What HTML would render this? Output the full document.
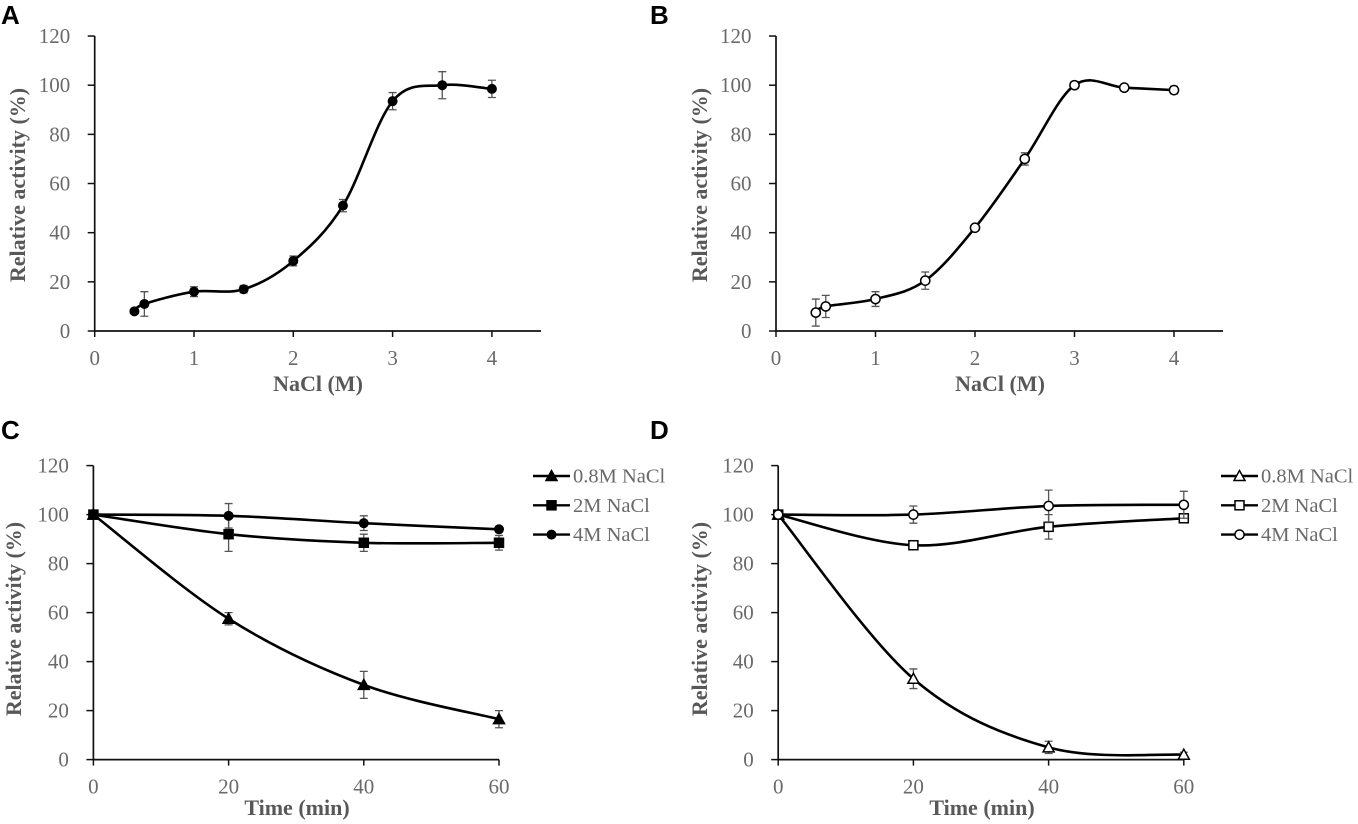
<!DOCTYPE html>
<html lang="en">
<head>
<meta charset="utf-8">
<title>Relative activity panels</title>
<style>
html,body{margin:0;padding:0;background:#fff;width:1358px;height:824px;overflow:hidden}
svg{display:block;filter:blur(0.35px)}
text{font-family:"Liberation Serif",serif;fill:#6a6a6a}
.tick{font-size:21px}
.title{font-size:22px;font-weight:bold;fill:#585858}
.panel{font-family:"Liberation Sans",sans-serif;font-size:26px;font-weight:bold;fill:#000}
.legend{font-size:20.5px}
</style>
</head>
<body>
<svg id="chart" xmlns="http://www.w3.org/2000/svg" width="1358" height="824" viewBox="0 0 1358 824"></svg>
<script>
// --- data ---
const yTicks = [0, 20, 40, 60, 80, 100, 120];
const naclTicks = [0, 1, 2, 3, 4];
const timeTicks = [0, 20, 40, 60];

const naclA = [0.4, 0.5, 1, 1.5, 2, 2.5, 3, 3.5, 4];
const activityA = [8, 11, 16, 17, 28.5, 51, 93.5, 100, 98.5];
const errorA = [0, 5, 2, 1.5, 2, 2.5, 3.5, 5.5, 3.5];

const naclB = [0.4, 0.5, 1, 1.5, 2, 2.5, 3, 3.5, 4];
const activityB = [7.5, 10, 13, 20.5, 42, 70, 100, 99, 98];
const errorB = [5.5, 4.5, 3, 3.5, 1, 2.5, 1.5, 1, 1.5];

const timeMin = [0, 20, 40, 60];
const c08 = [100, 57.5, 30.5, 16.5];
const c08Err = [0, 2.5, 5.5, 3.5];
const c2 = [100, 92, 88.5, 88.5];
const c2Err = [0, 7, 3.5, 3];
const c4 = [100, 99.5, 96.5, 94];
const c4Err = [0, 5, 3, 1];

const d08 = [100, 33, 5, 2];
const d08Err = [0, 4, 2.5, 1];
const d2 = [100, 87.5, 95, 98.5];
const d2Err = [0, 1, 5, 1];
const d4 = [100, 100, 103.5, 104];
const d4Err = [0, 3.5, 6.5, 5.5];

const legendLabels = ['0.8M NaCl', '2M NaCl', '4M NaCl'];

// --- drawing ---
const NS = 'http://www.w3.org/2000/svg';
const root = document.getElementById('chart');

function el(parent, tag, attrs) {
  const e = document.createElementNS(NS, tag);
  for (const k in attrs) e.setAttribute(k, attrs[k]);
  parent.appendChild(e);
  return e;
}
function label(parent, name, str, attrs) {
  const t = el(parent, 'text', attrs);
  t.textContent = str;
  
  
  return t;
}
function smoothPath(pts) {
  let d = 'M' + pts[0][0] + ' ' + pts[0][1];
  for (let i = 0; i < pts.length - 1; i++) {
    const p0 = pts[Math.max(i - 1, 0)], p1 = pts[i], p2 = pts[i + 1], p3 = pts[Math.min(i + 2, pts.length - 1)];
    const c1x = p1[0] + (p2[0] - p0[0]) / 6, c1y = p1[1] + (p2[1] - p0[1]) / 6;
    const c2x = p2[0] - (p3[0] - p1[0]) / 6, c2y = p2[1] - (p3[1] - p1[1]) / 6;
    d += ' C' + c1x + ' ' + c1y + ' ' + c2x + ' ' + c2y + ' ' + p2[0] + ' ' + p2[1];
  }
  return d;
}
function marker(parent, shape, filled, x, y, name) {
  const fill = filled ? '#000' : '#fff';
  let m;
  if (shape === 'circle') {
    m = el(parent, 'circle', {cx: x, cy: y, r: filled ? 5 : 4.6, fill: fill, stroke: '#000', 'stroke-width': filled ? 0 : 1.5});
  } else if (shape === 'square') {
    m = el(parent, 'rect', {x: x - 4.5, y: y - 4.5, width: 9, height: 9, fill: fill, stroke: '#000', 'stroke-width': 1.5});
  } else {
    m = el(parent, 'polygon', {points: (x) + ',' + (y - 5.5) + ' ' + (x + 5.5) + ',' + (y + 4.5) + ' ' + (x - 5.5) + ',' + (y + 4.5), fill: fill, stroke: '#000', 'stroke-width': 1.5});
  }
  
  
  return m;
}
function drawSeries(g, sx, sy, xs, ys, errs, shape, filled, name) {
  const s = el(g, 'g', {});
  
  
  xs.forEach((v, i) => {
    if (!errs[i]) return;
    const x = sx(v), top = sy(ys[i] + errs[i]), bot = sy(ys[i] - errs[i]);
    const bar = el(s, 'path', {d: 'M' + x + ' ' + top + 'V' + bot + 'M' + (x - 4) + ' ' + top + 'h8M' + (x - 4) + ' ' + bot + 'h8', stroke: '#555', 'stroke-width': 1.3, fill: 'none'});
    
    
  });
  const pts = xs.map((v, i) => [sx(v), sy(ys[i])]);
  const line = el(s, 'path', {d: smoothPath(pts), fill: 'none', stroke: '#000', 'stroke-width': 2.6});
  
  
  pts.forEach(p => marker(s, shape, filled, p[0], p[1], 'data-point'));
}
function drawPanel(cfg) {
  const g = el(root, 'g', {});
  
  
  const sx = v => cfg.x0 + (v - cfg.xMin) * cfg.xScale;
  const sy = v => cfg.y0 - v * cfg.yScale;

  label(g, 'panel-label', cfg.letter, {x: cfg.letterX, y: cfg.letterY, class: 'panel'});

  const axes = el(g, 'path', {d: 'M' + cfg.x0 + ' ' + sy(120) + 'V' + cfg.y0 + 'H' + cfg.xEnd, fill: 'none', stroke: '#111', 'stroke-width': 1.7});
  
  

  yTicks.forEach(v => {
    const t = el(g, 'line', {x1: cfg.x0 - 7, x2: cfg.x0, y1: sy(v), y2: sy(v), stroke: '#111', 'stroke-width': 1.5});
    
    
    label(g, 'y-tick-label', String(v), {x: cfg.x0 - 24.5, y: sy(v) + 7, 'text-anchor': 'end', class: 'tick'});
  });
  cfg.xTicks.forEach(v => {
    const t = el(g, 'line', {x1: sx(v), x2: sx(v), y1: cfg.y0, y2: cfg.y0 + 6, stroke: '#111', 'stroke-width': 1.5});
    
    
    label(g, 'x-tick-label', String(v), {x: sx(v), y: cfg.y0 + 34, 'text-anchor': 'middle', class: 'tick'});
  });
  label(g, 'x-axis-title', cfg.xTitle, {x: cfg.xTitleX, y: cfg.xTitleY, 'text-anchor': 'middle', class: 'title'});
  label(g, 'y-axis-title', 'Relative activity (%)', {x: 0, y: 0, 'text-anchor': 'middle', class: 'title', transform: 'translate(' + cfg.yTitleX + ' ' + cfg.yTitleY + ') rotate(-90)'});

  cfg.series.forEach(s => drawSeries(g, sx, sy, s.xs, s.ys, s.errs, s.shape, s.filled, s.name));

  if (cfg.legendX) {
    const lg = el(g, 'g', {});
    
    
    cfg.series.forEach((s, i) => {
      const y = 476 + i * 29.3;
      const e = el(lg, 'g', {});
      
      
      el(e, 'line', {x1: cfg.legendX, x2: cfg.legendX + 37, y1: y, y2: y, stroke: '#000', 'stroke-width': 2.4});
      marker(e, s.shape, s.filled, cfg.legendX + 18.5, y, 'legend-marker');
      label(e, 'legend-label', legendLabels[i], {x: cfg.legendX + 40, y: y + 6.5, class: 'legend'});
    });
  }
}

drawPanel({letter: 'A', letterX: 1, letterY: 24, x0: 94.7, xMin: 0, xScale: 99.3, xEnd: 541, y0: 331, yScale: 2.458,
  xTicks: naclTicks, xTitle: 'NaCl (M)', xTitleX: 318, xTitleY: 391, yTitleX: 25, yTitleY: 185,
  series: [{xs: naclA, ys: activityA, errs: errorA, shape: 'circle', filled: true, name: 'series-a'}]});
drawPanel({letter: 'B', letterX: 650, letterY: 24, x0: 776, xMin: 0, xScale: 99.5, xEnd: 1223, y0: 331, yScale: 2.458,
  xTicks: naclTicks, xTitle: 'NaCl (M)', xTitleX: 1000, xTitleY: 391, yTitleX: 707, yTitleY: 185,
  series: [{xs: naclB, ys: activityB, errs: errorB, shape: 'circle', filled: false, name: 'series-b'}]});
drawPanel({letter: 'C', letterX: 1, letterY: 439, x0: 93.4, xMin: 0, xScale: 6.76, xEnd: 499, y0: 759.6, yScale: 2.45,
  xTicks: timeTicks, xTitle: 'Time (min)', xTitleX: 297, xTitleY: 815, yTitleX: 21, yTitleY: 619, legendX: 533,
  series: [
    {xs: timeMin, ys: c08, errs: c08Err, shape: 'triangle', filled: true, name: 'series-0-8m-nacl'},
    {xs: timeMin, ys: c2, errs: c2Err, shape: 'square', filled: true, name: 'series-2m-nacl'},
    {xs: timeMin, ys: c4, errs: c4Err, shape: 'circle', filled: true, name: 'series-4m-nacl'}
  ]});
drawPanel({letter: 'D', letterX: 650, letterY: 439, x0: 778.2, xMin: 0, xScale: 6.76, xEnd: 1184, y0: 759.6, yScale: 2.45,
  xTicks: timeTicks, xTitle: 'Time (min)', xTitleX: 982, xTitleY: 815, yTitleX: 707, yTitleY: 619, legendX: 1221,
  series: [
    {xs: timeMin, ys: d08, errs: d08Err, shape: 'triangle', filled: false, name: 'series-0-8m-nacl'},
    {xs: timeMin, ys: d2, errs: d2Err, shape: 'square', filled: false, name: 'series-2m-nacl'},
    {xs: timeMin, ys: d4, errs: d4Err, shape: 'circle', filled: false, name: 'series-4m-nacl'}
  ]});
</script>
</body>
</html>
